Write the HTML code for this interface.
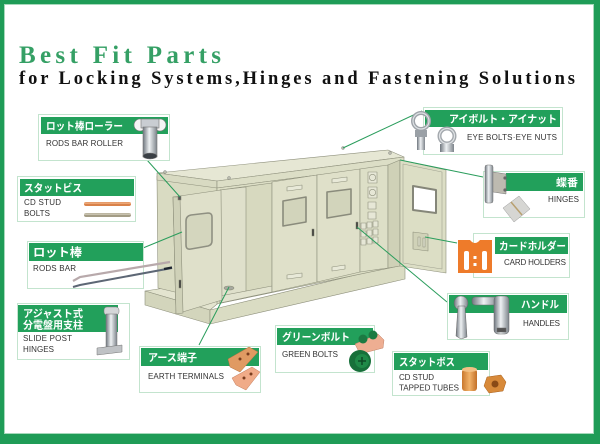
<!DOCTYPE html>
<html><head><meta charset="utf-8"><style>
html,body{margin:0;padding:0;background:#fff;}
body{width:600px;height:444px;overflow:hidden;position:relative;}
svg{position:absolute;left:0;top:0;}
.jp{font-family:"Liberation Sans","Noto Sans CJK JP",sans-serif;font-weight:bold;fill:#fff;font-size:10.5px;}
.en{font-family:"Liberation Sans","Noto Sans CJK JP",sans-serif;fill:#333;font-size:8px;}
</style></head><body>
<svg width="600" height="444" viewBox="0 0 600 444" xmlns="http://www.w3.org/2000/svg">
<defs>
<linearGradient id="metal" x1="0" x2="1" y1="0" y2="0"><stop offset="0" stop-color="#6f767e"/><stop offset=".45" stop-color="#eef1f3"/><stop offset="1" stop-color="#7d848b"/></linearGradient>
<linearGradient id="copper" x1="0" x2="1"><stop offset="0" stop-color="#c9782e"/><stop offset=".5" stop-color="#f2b36a"/><stop offset="1" stop-color="#c27028"/></linearGradient>
</defs>
<!-- frame -->
<rect x="0" y="0" width="600" height="4" fill="#1f9c57"/>
<rect x="0" y="0" width="4" height="444" fill="#1f9c57"/>
<rect x="594" y="0" width="6" height="444" fill="#1f9c57"/>
<rect x="0" y="434" width="600" height="10" fill="#1f9c57"/>
<rect x="4.5" y="4.5" width="589" height="429" fill="none" stroke="#a6d9bb" stroke-width="1"/>

<!-- title -->
<text x="19" y="63" font-family="Liberation Serif,serif" font-weight="bold" font-size="25" fill="#35a065" textLength="202" lengthAdjust="spacing">Best Fit Parts</text>
<text x="19" y="84" font-family="Liberation Serif,serif" font-weight="bold" font-size="18.5" fill="#111" textLength="556" lengthAdjust="spacing">for Locking Systems,Hinges and Fastening Solutions</text>

<!-- cabinet -->
<g stroke="#8e907c" stroke-width="0.6" stroke-linejoin="round">
 <polygon points="145,291 178,286 222,300 210,310" fill="#e3e4cf"/>
 <polygon points="145,291 210,310 210,324 145,305" fill="#d3d5bc"/>
 <polygon points="210,310 405,263 405,279 210,324" fill="#dadcc3"/>
 <polygon points="157,176 217,186 217,302 158,288" fill="#d9dbc2"/>
 <polygon points="157,173 388,150 404,157 217,181" fill="#e6e7d4"/>
 <polygon points="157,173 217,181 217,188 157,180" fill="#d8dac2"/>
 <polygon points="217,181 404,157 404,164 217,188" fill="#dcdec6"/>
 <polygon points="217,188 404,164 404,265 217,304" fill="#dcdec5"/>
 <polygon points="220,190 272,183 272,292 220,303" fill="#d7d9bf"/>
 <polygon points="220,190 246,187 246,298 220,303" fill="#dfe0cb"/>
 <polygon points="220,296 272,286 272,292 220,303" fill="#e2e3cf"/>
 <!-- door 2 -->
 <polygon points="272,182 317,175 317,282 272,292" fill="#dfe0c9"/>
 <polygon points="283,201 306,197 306,222 283,226" fill="#d2d4bb" stroke="#8a8b7c" stroke-width="1.6"/>
 <polygon points="287,187 302,185 302,189 287,191" fill="#e8e9d8"/>
 <polygon points="287,275 302,273 302,277 287,279" fill="#e8e9d8"/>
 <rect x="312" y="229" width="2" height="7" fill="#333"/>
 <!-- door 3 -->
 <polygon points="317,175 360,169 360,272 317,282" fill="#dfe0c9"/>
 <polygon points="327,192 351,189 351,214 327,218" fill="#d2d4bb" stroke="#8a8b7c" stroke-width="1.6"/>
 <polygon points="332,179 347,177 347,181 332,183" fill="#e8e9d8"/>
 <polygon points="332,267 345,265 345,269 332,271" fill="#e8e9d8"/>
 <rect x="356" y="222" width="2" height="7" fill="#333"/>
 <!-- panel 4 -->
 <polygon points="360,169 388,165 388,268 360,272" fill="#dddfc7"/>
 <rect x="368" y="172" width="9" height="11" fill="#e6e7d6"/><circle cx="372.5" cy="177.5" r="3.2" fill="none"/>
 <rect x="368" y="187" width="9" height="11" fill="#e6e7d6"/><circle cx="372.5" cy="192.5" r="3.2" fill="none"/>
 <rect x="368" y="202" width="8" height="7" fill="#e6e7d6"/>
 <rect x="368" y="212" width="8" height="7" fill="#e6e7d6"/>
 <rect x="361" y="223" width="5" height="6" fill="#e6e7d6"/><rect x="367" y="222" width="5" height="6" fill="#e6e7d6"/><rect x="373" y="221" width="5" height="6" fill="#e6e7d6"/>
 <rect x="361" y="231" width="5" height="6" fill="#e6e7d6"/><rect x="367" y="230" width="5" height="6" fill="#e6e7d6"/><rect x="373" y="229" width="5" height="6" fill="#e6e7d6"/>
 <rect x="361" y="239" width="5" height="6" fill="#e6e7d6"/><rect x="367" y="238" width="5" height="6" fill="#e6e7d6"/><rect x="373" y="237" width="5" height="6" fill="#e6e7d6"/>
 <!-- right frame and door -->
 <polygon points="388,165 400,160 400,266 388,268" fill="#cfd1b7"/>
 <polygon points="400,160 446,170 446,273 400,266" fill="#dcdec5"/>
 <polygon points="403,164 442,172 442,269 403,263" fill="none" stroke="#a0a290"/>
 <polygon points="413,186 436,190 436,213 413,210" fill="#ffffff" stroke="#858679" stroke-width="2"/>
 <polygon points="413,232 428,234 428,251 413,249" fill="#d0d2b8"/>
 <rect x="418" y="237" width="2" height="9" fill="#e4e5d3"/><rect x="423" y="238" width="2" height="9" fill="#e4e5d3"/>
 <!-- left door -->
 <polygon points="173,197 221,190 222,300 176,314" fill="#dfe0ca"/>
 <polygon points="173,197 180,197 183,313 176,314" fill="#cfd1b8"/>
 <path d="M186,221 Q186,216 191,215 L208,213 Q212,213 212,217 L212,241 Q212,245 208,246 L191,249 Q186,250 186,245 Z" fill="#d4d6be" stroke="#8f9082" stroke-width="1.6"/>
 <rect x="179" y="280" width="2" height="8" fill="#333"/>
 <rect x="178" y="196" width="3" height="4" fill="#555"/>
 <!-- earth terminal in cavity -->
 <ellipse cx="229" cy="288" rx="5" ry="2" fill="#a7a9a0"/>
</g>
<g fill="#b9bbad" stroke="#777" stroke-width=".4">
 <circle cx="165" cy="172" r="1.5"/><circle cx="229" cy="178" r="1.5"/><circle cx="343" cy="148" r="1.5"/><circle cx="390" cy="153" r="1.5"/>
</g>

<!-- connectors -->
<g stroke="#2a9d5c" stroke-width="1" fill="none">
 <line x1="147" y1="160" x2="180" y2="197"/>
 <line x1="143" y1="248" x2="182" y2="232"/>
 <line x1="422" y1="111" x2="343" y2="148"/>
 <line x1="400" y1="160" x2="483" y2="177"/>
 <line x1="425" y1="237" x2="457" y2="243"/>
 <line x1="357" y1="227" x2="447" y2="302"/>
 <line x1="229" y1="287" x2="199" y2="345"/>
</g>

<!-- boxes -->
<g fill="#fff" stroke="#c3e4ce" stroke-width="1">
 <rect x="38.5" y="114.5" width="131" height="46"/>
 <rect x="17.5" y="176.5" width="118" height="45"/>
 <rect x="27.5" y="241.5" width="116" height="47"/>
 <rect x="17.5" y="303.5" width="112" height="56"/>
 <rect x="139.5" y="346.5" width="121" height="46"/>
 <rect x="275.5" y="325.5" width="99" height="47"/>
 <rect x="392.5" y="351.5" width="97" height="44"/>
 <rect x="447.5" y="293.5" width="121" height="46"/>
 <rect x="423.5" y="107.5" width="139" height="47"/>
 <rect x="483.5" y="171.5" width="101" height="46"/>
 <rect x="473.5" y="233.5" width="96" height="44"/>
</g>
<g fill="#22a05b">
 <rect x="41" y="117" width="127" height="17"/>
 <rect x="20" y="179" width="114" height="17"/>
 <rect x="29" y="243" width="114" height="18"/>
 <rect x="18" y="305" width="100" height="27"/>
 <rect x="141" y="348" width="118" height="18"/>
 <rect x="277" y="328" width="96" height="17"/>
 <rect x="394" y="353" width="94" height="17"/>
 <rect x="449" y="295" width="118" height="18"/>
 <rect x="425" y="110" width="135" height="17"/>
 <rect x="506" y="173" width="77" height="18"/>
 <rect x="495" y="237" width="73" height="17"/>
</g>

<!-- header texts -->
<text class="jp" x="46" y="129.5" textLength="77" lengthAdjust="spacingAndGlyphs">ロット棒ローラー</text>
<text class="jp" x="24" y="191.5" textLength="58" lengthAdjust="spacingAndGlyphs">スタットビス</text>
<text class="jp" x="33" y="256.5" font-size="12" textLength="49" lengthAdjust="spacingAndGlyphs" style="font-size:12px">ロット棒</text>
<text class="jp" x="23" y="317" textLength="60" lengthAdjust="spacingAndGlyphs">アジャスト式</text>
<text class="jp" x="23" y="328.5" textLength="60" lengthAdjust="spacingAndGlyphs">分電盤用支柱</text>
<text class="jp" x="148" y="361" textLength="49" lengthAdjust="spacingAndGlyphs">アース端子</text>
<text class="jp" x="282" y="340.5" textLength="68" lengthAdjust="spacingAndGlyphs">グリーンボルト</text>
<text class="jp" x="399" y="365.5" textLength="56" lengthAdjust="spacingAndGlyphs">スタットボス</text>
<text class="jp" x="521" y="308" textLength="38" lengthAdjust="spacingAndGlyphs">ハンドル</text>
<text class="jp" x="449" y="122.5" textLength="108" lengthAdjust="spacingAndGlyphs">アイボルト・アイナット</text>
<text class="jp" x="556" y="186" textLength="22" lengthAdjust="spacingAndGlyphs">蝶番</text>
<text class="jp" x="499" y="249.5" textLength="67" lengthAdjust="spacingAndGlyphs">カードホルダー</text>

<!-- english texts -->
<text class="en" x="46" y="146" textLength="77" lengthAdjust="spacing">RODS BAR ROLLER</text>
<text class="en" x="24" y="205" textLength="37" lengthAdjust="spacing">CD STUD</text>
<text class="en" x="24" y="216" textLength="26" lengthAdjust="spacing">BOLTS</text>
<text class="en" x="33" y="271" textLength="43" lengthAdjust="spacing">RODS BAR</text>
<text class="en" x="23" y="341" textLength="49" lengthAdjust="spacing">SLIDE POST</text>
<text class="en" x="23" y="352" textLength="31" lengthAdjust="spacing">HINGES</text>
<text class="en" x="148" y="379" textLength="76" lengthAdjust="spacing">EARTH TERMINALS</text>
<text class="en" x="282" y="357" textLength="56" lengthAdjust="spacing">GREEN BOLTS</text>
<text class="en" x="399" y="380" textLength="35" lengthAdjust="spacing">CD STUD</text>
<text class="en" x="399" y="390.5" textLength="60" lengthAdjust="spacing">TAPPED TUBES</text>
<text class="en" x="523" y="326" textLength="37" lengthAdjust="spacing">HANDLES</text>
<text class="en" x="467" y="140" textLength="90" lengthAdjust="spacing">EYE BOLTS·EYE NUTS</text>
<text class="en" x="548" y="202" textLength="31" lengthAdjust="spacing">HINGES</text>
<text class="en" x="504" y="265" textLength="62" lengthAdjust="spacing">CARD HOLDERS</text>

<!-- product images -->
<!-- roller -->
<g stroke="#777" stroke-width=".6">
 <circle cx="140" cy="125" r="6" fill="#f4f4f4"/>
 <circle cx="160" cy="125" r="6" fill="#f4f4f4"/>
 <rect x="141" y="119" width="18" height="9" fill="#c9cdd2"/>
 <rect x="143" y="127" width="14" height="30" fill="url(#metal)"/>
 <ellipse cx="150" cy="156" rx="7" ry="3" fill="#3a3f45"/>
</g>
<!-- stud bolts -->
<rect x="84" y="202" width="47" height="4" rx="2" fill="#d9824a"/>
<rect x="84" y="202.5" width="47" height="1.2" fill="#f3b68a"/>
<rect x="84" y="213" width="47" height="4" rx="2" fill="#a39c85"/>
<rect x="84" y="213.5" width="47" height="1.2" fill="#d6d1c0"/>
<!-- rods -->
<polyline points="73,281 80,277 170,262" fill="none" stroke="#b8a9ab" stroke-width="2.2"/>
<polyline points="73,287 80,285 172,268" fill="none" stroke="#5d6775" stroke-width="2"/>
<line x1="164" y1="269" x2="172" y2="267.5" stroke="#1e2530" stroke-width="2.4"/>
<!-- slide post -->
<g stroke="#777" stroke-width=".5">
 <rect x="104" y="307" width="15" height="8" rx="3" fill="#d4d6d8"/>
 <rect x="106" y="314" width="11" height="34" fill="url(#metal)"/>
 <polygon points="97,348 122,345 122,352 97,355" fill="#bfc2c5"/>
</g>
<!-- earth terminals -->
<polygon points="228,359 249,347 258,352 240,372 230,367" fill="#e09a62" stroke="#b57040" stroke-width=".5"/>
<polygon points="232,378 252,367 260,372 246,390 236,385" fill="#f0ab88" stroke="#c27c5c" stroke-width=".5"/>
<circle cx="240" cy="359" r="1.5" fill="#7a3d1e"/><circle cx="248" cy="354" r="1.5" fill="#7a3d1e"/>
<circle cx="244" cy="378" r="1.5" fill="#7a3d1e"/><circle cx="251" cy="374" r="1.5" fill="#7a3d1e"/>
<!-- green bolts -->
<polygon points="355,344 378,334 384,340 383,348 360,354" fill="#eeae92" stroke="#c08066" stroke-width=".5"/>
<circle cx="363" cy="339" r="4.5" fill="#1b7a42"/><circle cx="373" cy="335" r="4.5" fill="#1b7a42"/>
<circle cx="360" cy="361" r="11" fill="#17703a"/>
<circle cx="362" cy="361" r="7" fill="#1f8a48"/>
<path d="M358,361 h8 M362,357 v8" stroke="#0d4a25" stroke-width="1.5"/>
<!-- tubes -->
<rect x="462" y="369" width="15" height="22" rx="3" fill="url(#copper)"/>
<ellipse cx="469.5" cy="369.5" rx="7.5" ry="2.5" fill="#f2c084"/>
<polygon points="487,377 501,375 506,382 503,391 489,393 484,386" fill="#d88a3a" stroke="#a8611e" stroke-width=".5"/>
<circle cx="495" cy="384" r="3.5" fill="#8a4a16"/>
<!-- handles -->
<g stroke="#666" stroke-width=".5">
 <circle cx="461" cy="303" r="7" fill="url(#metal)"/>
 <polygon points="458,306 465,306 467,337 461,339 456,336" fill="url(#metal)"/>
 <rect x="472" y="297" width="26" height="8" rx="3" fill="url(#metal)"/>
 <rect x="494" y="296" width="15" height="38" rx="4" fill="url(#metal)"/>
 <rect x="497" y="328" width="9" height="4" fill="#555"/>
</g>
<!-- eye bolts -->
<circle cx="421" cy="121" r="8" fill="none" stroke="#9ea3a9" stroke-width="4"/>
<circle cx="421" cy="121" r="8" fill="none" stroke="#dde1e4" stroke-width="1.2"/>
<rect x="415" y="130" width="12" height="7" fill="#9aa0a6"/>
<rect x="417" y="137" width="8" height="13" fill="url(#metal)"/>
<circle cx="447" cy="136" r="7.5" fill="none" stroke="#a3a8ad" stroke-width="4"/>
<circle cx="447" cy="136" r="7.5" fill="none" stroke="#e0e3e6" stroke-width="1.2"/>
<rect x="440" y="144" width="14" height="8" fill="url(#metal)"/>
<!-- hinges -->
<rect x="485" y="165" width="8" height="38" rx="2" fill="url(#metal)" stroke="#777" stroke-width=".5"/>
<polygon points="493,172 506,174 506,194 493,192" fill="#bdbab0" stroke="#777" stroke-width=".5"/>
<circle cx="505" cy="178" r="1.6" fill="#666"/><circle cx="505" cy="190" r="1.6" fill="#666"/>
<polygon points="503,208 519,196 530,209 514,222" fill="#d6d6d3" stroke="#999" stroke-width=".5"/>
<line x1="511" y1="202" x2="522" y2="215" stroke="#b8a070" stroke-width="1.5"/>
<!-- card holder -->
<path d="M458,240 L470,240 Q475,246 480,240 L492,240 L492,273 L458,273 Z" fill="#ee7b2a"/>
<rect x="464" y="251" width="5" height="19" rx="2" fill="#fff"/>
<rect x="482" y="251" width="5" height="19" rx="2" fill="#fff"/>
<rect x="473.5" y="256" width="3" height="3" fill="#fff"/>
<rect x="473.5" y="263" width="3" height="3" fill="#fff"/>
</svg>
</body></html>
